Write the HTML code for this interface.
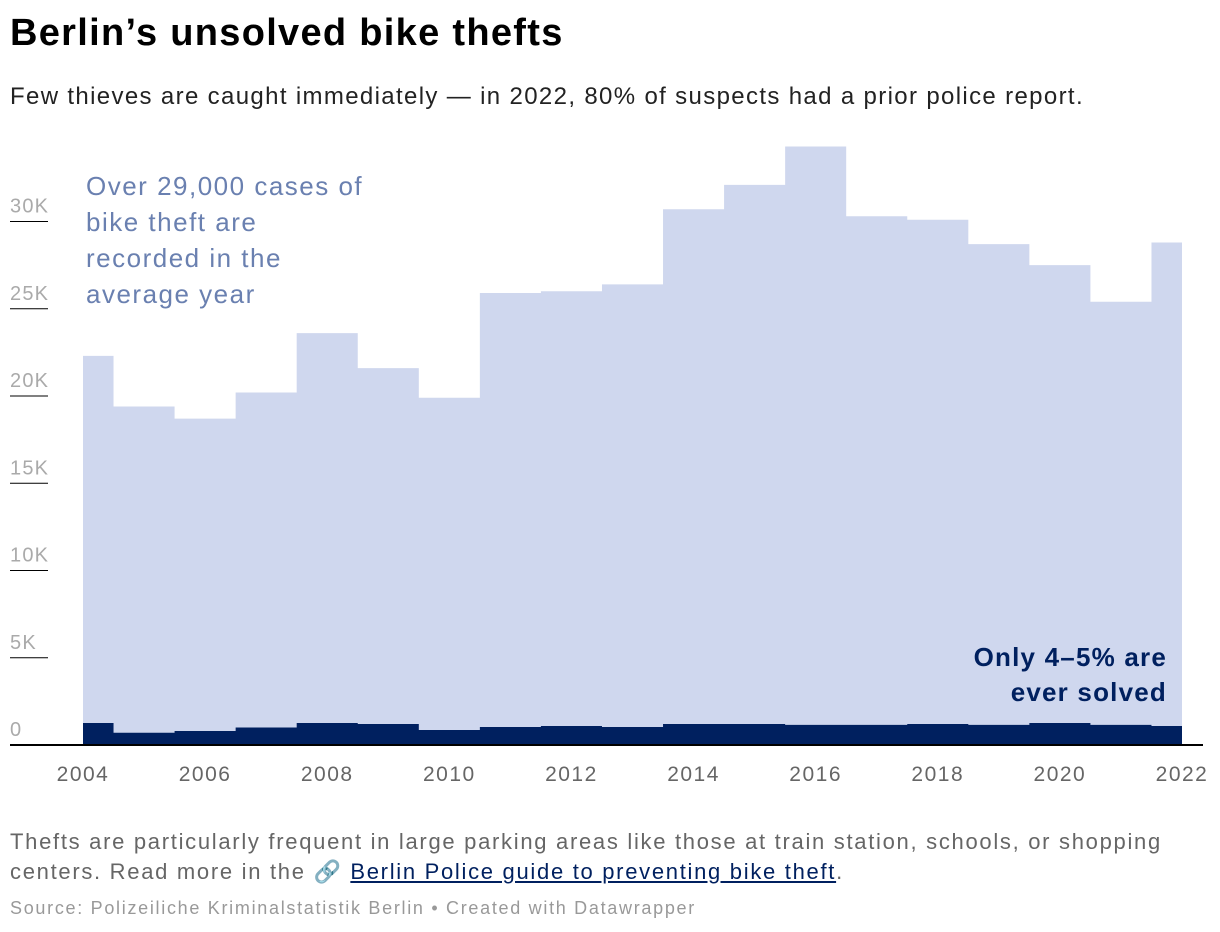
<!DOCTYPE html>
<html><head><meta charset="utf-8">
<style>
body{margin:0;background:#fff;font-family:"Liberation Sans",sans-serif;width:1220px;height:932px;overflow:hidden;position:relative}
.t{position:absolute;white-space:nowrap}
</style></head><body>
<div class="t" style="left:10px;top:12px;font-size:38px;letter-spacing:1.3px;font-weight:bold;color:#000">Berlin’s unsolved bike thefts</div>
<div class="t" style="left:10px;top:83px;font-size:24px;letter-spacing:1.35px;color:#222">Few thieves are caught immediately — in 2022, 80% of suspects had a prior police report.</div>
<svg id="chart" style="position:absolute;left:0;top:0" width="1220" height="800"></svg>
<div class="t" style="left:86px;top:168px;font-size:26px;letter-spacing:1.5px;line-height:36px;color:#6a80b0">Over 29,000 cases of<br>bike theft are<br>recorded in the<br>average year</div>
<div class="t" style="right:53px;top:640px;font-size:26px;letter-spacing:1.2px;line-height:35px;color:#00205f;font-weight:bold;text-align:right">Only 4–5% are<br>ever solved</div>
<div class="t" style="left:10px;top:827px;font-size:22px;letter-spacing:1.7px;line-height:30px;color:#666">Thefts are particularly frequent in large parking areas like those at train station, schools, or shopping<br>centers. Read more in the 🔗 <a style="color:#00205f;text-decoration:underline">Berlin Police guide to preventing bike theft</a>.</div>
<div class="t" style="left:10px;top:898px;font-size:18px;letter-spacing:1.7px;color:#999">Source: Polizeiliche Kriminalstatistik Berlin • Created with Datawrapper</div>
<script>
const years=[2004,2005,2006,2007,2008,2009,2010,2011,2012,2013,2014,2015,2016,2017,2018,2019,2020,2021,2022];
const totalThefts=[22.3,19.4,18.7,20.2,23.6,21.6,19.9,25.9,26.0,26.4,30.7,32.1,34.3,30.3,30.1,28.7,27.5,25.4,28.8];
const solvedThefts=[1.26,0.7,0.8,1.0,1.26,1.2,0.86,1.03,1.09,1.03,1.2,1.2,1.15,1.15,1.2,1.15,1.26,1.15,1.09];
const yTicks=[0,5,10,15,20,25,30];
const yTickLabels=["0","5K","10K","15K","20K","25K","30K"];
const xTicks=[2004,2006,2008,2010,2012,2014,2016,2018,2020,2022];
const svg=document.getElementById('chart');const NS='http://www.w3.org/2000/svg';
const x=v=>83+(v-2004)*(1182-83)/18;
const y=v=>745-v*17.45;
function mk(t,a){const e=document.createElementNS(NS,t);for(const k in a)e.setAttribute(k,a[k]);svg.appendChild(e);return e;}
function stepPath(vals){let d='M'+x(years[0])+','+y(0);years.forEach((yr,i)=>{const x0=Math.max(x(yr-0.5),x(years[0])),x1=Math.min(x(yr+0.5),x(years[years.length-1]));d+=' L'+x0+','+y(vals[i])+' L'+x1+','+y(vals[i]);});return d+' L'+x(years[years.length-1])+','+y(0)+' Z';}
yTicks.forEach((v,i)=>{
const l=mk('line',{x1:10,x2:48,y1:y(v),y2:y(v),stroke:'#000','stroke-width':1});

const t=mk('text',{x:10,y:y(v)-9,'font-size':20,'letter-spacing':1.2,fill:'#aaa','font-family':'Liberation Sans'});t.textContent=yTickLabels[i];

});
const a=mk('path',{d:stepPath(totalThefts),fill:'#cfd7ee'});

const b=mk('path',{d:stepPath(solvedThefts),fill:'#00205f'});

const ax=mk('line',{x1:10,x2:1203,y1:745,y2:745,stroke:'#000','stroke-width':2});

xTicks.forEach(v=>{const t=mk('text',{x:x(v),y:781,'font-size':21,'letter-spacing':1.5,fill:'#666','text-anchor':'middle','font-family':'Liberation Sans'});t.textContent=v;
});
</script>
</body></html>
